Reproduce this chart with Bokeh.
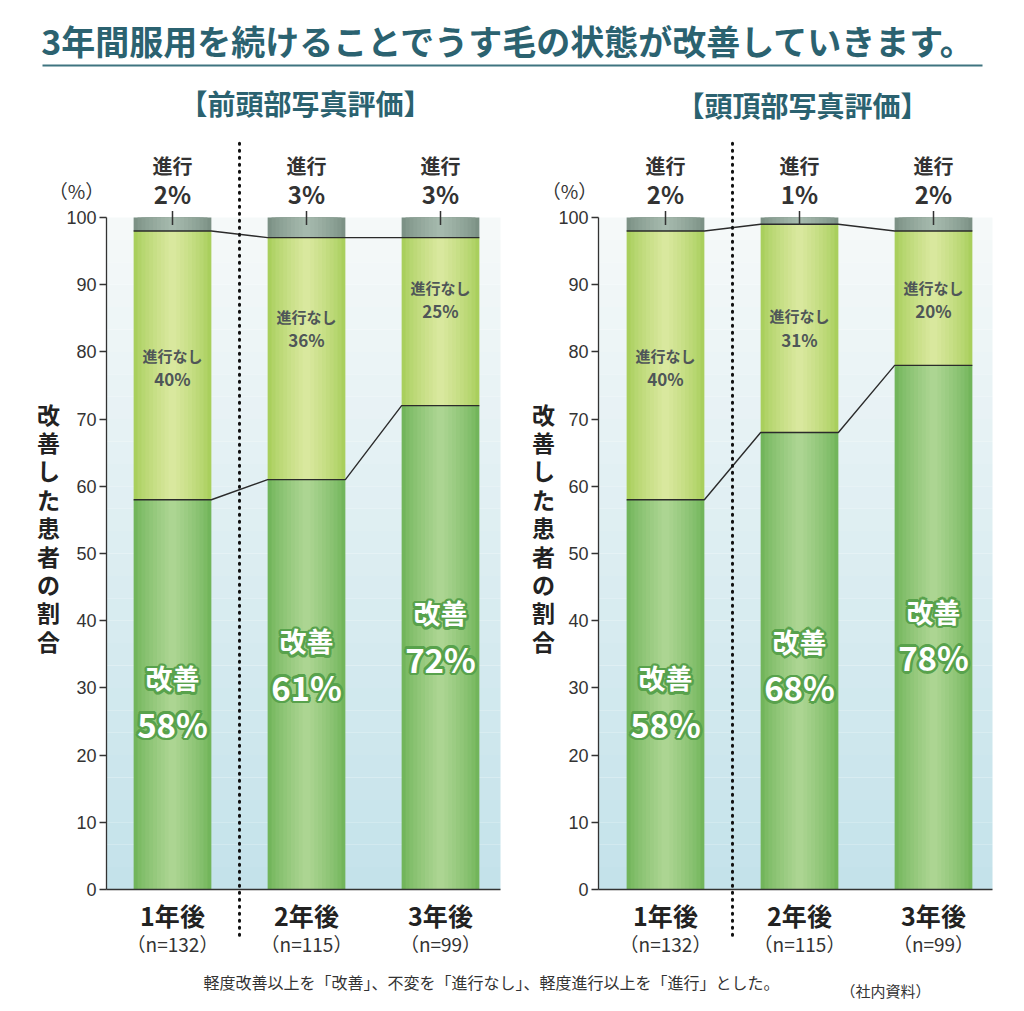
import math
from bokeh.plotting import figure
from bokeh.models import Range1d, FixedTicker
from bokeh.layouts import column, row
from bokeh.core.properties import value
from bokeh.embed import file_html
from bokeh.resources import INLINE

# ---------------- data ----------------
main_title = "3年間服用を続けることでうす毛の状態が改善していきます。"
panel_titles = ["【前頭部写真評価】", "【頭頂部写真評価】"]
years = ["1年後", "2年後", "3年後"]
n_labels = ["（n=132）", "（n=115）", "（n=99）"]
front_improved = [58, 61, 72]
front_nochange = [40, 36, 25]
front_progress = [2, 3, 3]
crown_improved = [58, 68, 78]
crown_nochange = [40, 31, 20]
crown_progress = [2, 1, 2]
y_ticks = [0, 10, 20, 30, 40, 50, 60, 70, 80, 90, 100]
y_title = "改善した患者の割合"
unit_label = "（%）"
lbl_improved = "改善"
lbl_nochange = "進行なし"
lbl_progress = "進行"
footnote = "軽度改善以上を「改善」、不変を「進行なし」、軽度進行以上を「進行」とした。"
source_note = "（社内資料）"

# ---------------- styles ----------------
JP = "Noto Sans CJK JP"
TEAL = "#2b6270"
DARK = "#333333"
PX = 6.72          # pixels per percent
UX = 134.0         # pixels per category step
BAR_W = 0.58
XS = [0, 1, 2]

# label anchor positions (style)
front_imp_anchor = [28.1, 33.6, 37.75]
crown_imp_anchor = [28.1, 33.5, 38.0]
front_nc_anchor = [77.75, 83.55, 87.9]
crown_nc_anchor = [77.75, 83.6, 87.9]


def hex2rgb(h):
    h = h.lstrip("#")
    return [int(h[i:i + 2], 16) for i in (0, 2, 4)]


def lerp(c1, c2, t):
    a, b = hex2rgb(c1), hex2rgb(c2)
    return "#%02x%02x%02x" % tuple(int(round(x + (y - x) * t)) for x, y in zip(a, b))


def gradient_bar(p, bottoms, tops, edge, center, layers=10):
    for k in range(layers):
        w = BAR_W * (1 - k / layers)
        t = (k / (layers - 1)) ** 0.8
        p.vbar(x=XS, width=w, bottom=bottoms, top=tops,
               fill_color=lerp(edge, center, t), line_color=None)


def glow_text(p, ys, texts, size):
    kw = dict(text_font=value(JP), text_font_style="bold", text_font_size=size,
              text_align="center", text_baseline="middle")
    for a in range(0, 360, 30):
        dx = 2.6 * math.cos(math.radians(a))
        dy = 2.6 * math.sin(math.radians(a))
        p.text(x=XS, y=ys, text=texts, text_color="#58a24c", x_offset=dx, y_offset=dy, **kw)
    p.text(x=XS, y=ys, text=texts, text_color="white", **kw)


def make_panel(title, improved, nochange, progress, width, left_px, bar0_px,
               title_x, title_y, imp_anchor, nc_anchor, ytitle_px, unit_px):
    height = 882
    y_start = -(962 - 889) / PX
    y_end = (889 - 80) / PX
    x_start = (left_px - bar0_px) / UX
    x_end = (left_px + width - bar0_px) / UX
    axis_x = x_start + 92 / UX if left_px > 0 else (106 - bar0_px) / UX
    plot_right = axis_x + 394 / UX
    p = figure(width=width, height=height,
               x_range=Range1d(x_start, x_end), y_range=Range1d(y_start, y_end),
               output_backend="svg", toolbar_location=None,
               x_axis_location=None, y_axis_location="left",
               min_border=0, outline_line_color=None,
               background_fill_color="white", border_fill_color="white")
    p.xgrid.visible = False
    p.ygrid.visible = False
    ax = p.yaxis[0]
    ax.fixed_location = axis_x
    ax.ticker = FixedTicker(ticks=y_ticks)
    ax.bounds = (0, 100)
    ax.major_tick_out = 7
    ax.major_tick_in = 0
    ax.minor_tick_out = 0
    ax.minor_tick_in = 0
    ax.axis_line_color = DARK
    ax.axis_line_width = 1.3
    ax.major_tick_line_color = DARK
    ax.major_tick_line_width = 1.3
    ax.major_label_text_font = "Liberation Sans"
    ax.major_label_text_font_size = "18px"
    ax.major_label_text_color = DARK
    ax.major_label_standoff = 3

    # background gradient
    nb = 30
    bots = [100 * i / nb for i in range(nb)]
    tps = [100 * (i + 1) / nb for i in range(nb)]
    cols = [lerp("#c3e2ea", "#f6f9f9", (i + 0.5) / nb) for i in range(nb)]
    p.quad(left=axis_x, right=plot_right, bottom=bots, top=tps, fill_color=cols,
           line_color=None)

    cum1 = improved
    cum2 = [a + b for a, b in zip(improved, nochange)]
    cum3 = [a + b + c for a, b, c in zip(improved, nochange, progress)]

    gradient_bar(p, [0, 0, 0], cum1, "#72b55b", "#acd592")
    gradient_bar(p, cum1, cum2, "#a9cf5d", "#d9e89e")
    gradient_bar(p, cum2, cum3, "#7c9185", "#a5b9ad")

    # boundary + connector lines
    for cum in (cum1, cum2):
        lx, ly = [], []
        for x, v in zip(XS, cum):
            lx += [x - BAR_W / 2, x + BAR_W / 2]
            ly += [v, v]
        p.line(lx, ly, line_color="#2b2b2b", line_width=1.4)

    # baseline
    p.segment(x0=[axis_x], y0=[0], x1=[plot_right], y1=[0], line_color=DARK, line_width=1.4)

    # tick marks above bars
    p.segment(x0=XS, y0=[v - 1.1 for v in cum3], x1=XS, y1=[v + 0.95 for v in cum3],
              line_color=DARK, line_width=1.5)

    # dotted separator
    p.line(x=[0.5, 0.5], y=[-6.8, 111.2], line_color="#111111",
           line_width=3, line_dash="1 6", line_cap="round")

    # progress labels
    p.text(x=XS, y=[107.7] * 3, text=[lbl_progress] * 3, text_font=value(JP),
           text_font_style="bold", text_font_size="20px", text_color=DARK,
           text_align="center", text_baseline="middle")
    p.text(x=XS, y=[103.6] * 3, text=["%d%%" % v for v in progress], text_font=value(JP),
           text_font_style="bold", text_font_size="24px", text_color=DARK,
           text_align="center", text_baseline="middle")

    # no-change labels
    p.text(x=XS, y=[a + 1.75 for a in nc_anchor], text=[lbl_nochange] * 3, text_font=value(JP),
           text_font_style="bold", text_font_size="15px", text_color="#4f5658",
           text_align="center", text_baseline="middle")
    p.text(x=XS, y=[a - 1.75 for a in nc_anchor], text=["%d%%" % v for v in nochange],
           text_font=value(JP), text_font_style="bold", text_font_size="17px",
           text_color="#4f5658", text_align="center", text_baseline="middle")

    # improved labels (white with green glow)
    glow_text(p, [a + 3.4 for a in imp_anchor], [lbl_improved] * 3, "27px")
    glow_text(p, [a - 3.4 for a in imp_anchor], ["%d%%" % v for v in improved], "33px")

    # x category labels
    p.text(x=XS, y=[-3.8] * 3, text=years, text_font=value(JP), text_font_style="bold",
           text_font_size="25px", text_color="#222222", text_align="center",
           text_baseline="middle")
    p.text(x=XS, y=[-8.0] * 3, text=n_labels, text_font=value(JP),
           text_font_size="19px", text_color=DARK, text_align="center",
           text_baseline="middle")

    # panel title
    p.text(x=[title_x], y=[title_y], text=[title], text_font=value(JP), text_font_style="bold",
           text_font_size="28px", text_color=TEAL, text_align="center", text_baseline="middle")

    # y title (vertical, one character per line) and unit
    n = len(y_title)
    step = 28.4 / PX
    yt_x = (ytitle_px - bar0_px) / UX
    p.text(x=[yt_x] * n, y=[53.9 + (n - 1) / 2 * step - i * step for i in range(n)],
           text=list(y_title), text_font=value(JP), text_font_style="bold",
           text_font_size="23px", text_color="#222222", text_align="center",
           text_baseline="middle")
    p.text(x=[(unit_px - bar0_px) / UX], y=[104.0], text=[unit_label], text_font=value(JP),
           text_font_size="19px", text_color=DARK, text_align="center",
           text_baseline="middle")
    return p


p1 = make_panel(panel_titles[0], front_improved, front_nochange, front_progress,
                width=506, left_px=0, bar0_px=172,
                title_x=0.993, title_y=117.1,
                imp_anchor=front_imp_anchor, nc_anchor=front_nc_anchor,
                ytitle_px=48, unit_px=76)
p2 = make_panel(panel_titles[1], crown_improved, crown_nochange, crown_progress,
                width=510, left_px=506, bar0_px=665,
                title_x=1.022, title_y=116.7,
                imp_anchor=crown_imp_anchor, nc_anchor=crown_nc_anchor,
                ytitle_px=543, unit_px=569)

# header
h = figure(width=1016, height=80, x_range=Range1d(0, 1016), y_range=Range1d(80, 0),
           output_backend="svg", toolbar_location=None, x_axis_location=None,
           y_axis_location=None, min_border=0, outline_line_color=None)
h.grid.visible = False
h.text(x=[508], y=[40], text=[main_title], text_font=value(JP), text_font_style="bold",
       text_font_size="34px", text_color=TEAL, text_align="center", text_baseline="middle")
h.segment(x0=[42], y0=[65], x1=[982], y1=[65], line_color="#3f7480", line_width=2)

# footer
f = figure(width=1016, height=41, x_range=Range1d(0, 1016), y_range=Range1d(41, 0),
           output_backend="svg", toolbar_location=None, x_axis_location=None,
           y_axis_location=None, min_border=0, outline_line_color=None)
f.grid.visible = False
f.text(x=[203], y=[19], text=[footnote], text_font=value(JP), text_font_size="16px",
       text_color=DARK, text_align="left", text_baseline="middle")
f.text(x=[885], y=[28], text=[source_note], text_font=value(JP), text_font_size="15px",
       text_color=DARK, text_align="center", text_baseline="middle")

layout = column(h, row(p1, p2), f)
open("out.html", "w").write(file_html(layout, INLINE))
